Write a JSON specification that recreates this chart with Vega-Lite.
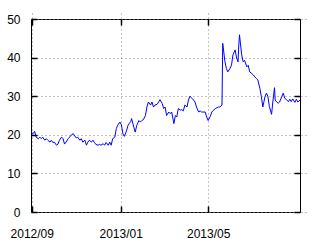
{
  "$schema": "https://vega.github.io/schema/vega-lite/v6.json",
  "width": 269,
  "height": 193,
  "autosize": {"type": "none"},
  "padding": {"left": 31, "top": 19, "right": 29, "bottom": 37},
  "background": "white",
  "config": {
    "view": {"stroke": "black", "strokeWidth": 1},
    "axis": {
      "labelFont": "Liberation Sans",
      "labelFontSize": 12,
      "labelColor": "black",
      "ticks": true,
      "tickColor": "black",
      "tickOpacity": 1,
      "tickWidth": 1.5,
      "tickSize": 6,
      "offset": -6,
      "domain": false,
      "title": null,
      "labelFlush": false,
      "gridColor": "#888888",
      "gridDash": [1, 3],
      "gridWidth": 1
    }
  },
  "data": {
    "values": [
      {"date": "2012-08-31", "price": 20.7},
      {"date": "2012-09-03", "price": 20.3},
      {"date": "2012-09-05", "price": 20.9},
      {"date": "2012-09-07", "price": 19.4},
      {"date": "2012-09-10", "price": 19.0},
      {"date": "2012-09-12", "price": 19.4},
      {"date": "2012-09-14", "price": 19.0},
      {"date": "2012-09-16", "price": 19.4},
      {"date": "2012-09-19", "price": 18.6},
      {"date": "2012-09-21", "price": 19.0},
      {"date": "2012-09-23", "price": 18.6},
      {"date": "2012-09-26", "price": 18.1},
      {"date": "2012-09-28", "price": 18.6},
      {"date": "2012-09-30", "price": 18.0},
      {"date": "2012-10-02", "price": 18.1},
      {"date": "2012-10-05", "price": 17.3},
      {"date": "2012-10-07", "price": 17.6},
      {"date": "2012-10-09", "price": 18.6},
      {"date": "2012-10-12", "price": 19.4},
      {"date": "2012-10-14", "price": 19.0},
      {"date": "2012-10-16", "price": 17.6},
      {"date": "2012-10-18", "price": 18.1},
      {"date": "2012-10-21", "price": 19.0},
      {"date": "2012-10-23", "price": 19.4},
      {"date": "2012-10-25", "price": 19.9},
      {"date": "2012-10-28", "price": 20.3},
      {"date": "2012-10-30", "price": 19.7},
      {"date": "2012-11-01", "price": 19.2},
      {"date": "2012-11-03", "price": 19.4},
      {"date": "2012-11-06", "price": 18.6},
      {"date": "2012-11-08", "price": 19.0},
      {"date": "2012-11-10", "price": 18.1},
      {"date": "2012-11-13", "price": 18.6},
      {"date": "2012-11-15", "price": 17.3},
      {"date": "2012-11-17", "price": 18.1},
      {"date": "2012-11-19", "price": 18.6},
      {"date": "2012-11-22", "price": 18.1},
      {"date": "2012-11-24", "price": 18.6},
      {"date": "2012-11-26", "price": 18.0},
      {"date": "2012-11-28", "price": 17.5},
      {"date": "2012-12-01", "price": 17.3},
      {"date": "2012-12-03", "price": 17.5},
      {"date": "2012-12-05", "price": 17.3},
      {"date": "2012-12-08", "price": 17.7},
      {"date": "2012-12-10", "price": 17.3},
      {"date": "2012-12-12", "price": 18.0},
      {"date": "2012-12-15", "price": 17.3},
      {"date": "2012-12-17", "price": 18.1},
      {"date": "2012-12-19", "price": 17.3},
      {"date": "2012-12-21", "price": 19.0},
      {"date": "2012-12-24", "price": 19.4},
      {"date": "2012-12-26", "price": 21.6},
      {"date": "2012-12-28", "price": 22.5},
      {"date": "2012-12-31", "price": 23.3},
      {"date": "2013-01-02", "price": 22.6},
      {"date": "2013-01-04", "price": 20.3},
      {"date": "2013-01-06", "price": 19.6},
      {"date": "2013-01-09", "price": 21.0},
      {"date": "2013-01-11", "price": 22.4},
      {"date": "2013-01-13", "price": 23.0},
      {"date": "2013-01-15", "price": 23.5},
      {"date": "2013-01-16", "price": 24.2},
      {"date": "2013-01-19", "price": 22.0},
      {"date": "2013-01-21", "price": 20.7},
      {"date": "2013-01-23", "price": 22.4},
      {"date": "2013-01-26", "price": 23.7},
      {"date": "2013-01-28", "price": 23.3},
      {"date": "2013-01-30", "price": 23.7},
      {"date": "2013-02-01", "price": 23.9},
      {"date": "2013-02-04", "price": 25.0},
      {"date": "2013-02-06", "price": 27.2},
      {"date": "2013-02-08", "price": 28.5},
      {"date": "2013-02-11", "price": 27.7},
      {"date": "2013-02-13", "price": 28.5},
      {"date": "2013-02-15", "price": 27.2},
      {"date": "2013-02-17", "price": 27.7},
      {"date": "2013-02-20", "price": 27.9},
      {"date": "2013-02-22", "price": 28.5},
      {"date": "2013-02-24", "price": 29.1},
      {"date": "2013-02-27", "price": 28.1},
      {"date": "2013-03-01", "price": 26.8},
      {"date": "2013-03-03", "price": 27.2},
      {"date": "2013-03-05", "price": 25.0},
      {"date": "2013-03-08", "price": 25.9},
      {"date": "2013-03-10", "price": 25.5},
      {"date": "2013-03-12", "price": 25.9},
      {"date": "2013-03-15", "price": 22.9},
      {"date": "2013-03-17", "price": 25.0},
      {"date": "2013-03-19", "price": 24.6},
      {"date": "2013-03-21", "price": 26.8},
      {"date": "2013-03-24", "price": 26.4},
      {"date": "2013-03-26", "price": 26.5},
      {"date": "2013-03-28", "price": 26.2},
      {"date": "2013-03-30", "price": 27.7},
      {"date": "2013-04-02", "price": 27.2},
      {"date": "2013-04-04", "price": 29.0},
      {"date": "2013-04-06", "price": 30.0},
      {"date": "2013-04-09", "price": 29.4},
      {"date": "2013-04-11", "price": 29.0},
      {"date": "2013-04-13", "price": 28.5},
      {"date": "2013-04-15", "price": 27.2},
      {"date": "2013-04-18", "price": 25.9},
      {"date": "2013-04-20", "price": 26.2},
      {"date": "2013-04-22", "price": 25.9},
      {"date": "2013-04-25", "price": 25.9},
      {"date": "2013-04-27", "price": 25.9},
      {"date": "2013-04-29", "price": 24.6},
      {"date": "2013-05-01", "price": 23.7},
      {"date": "2013-05-04", "price": 24.8},
      {"date": "2013-05-06", "price": 25.9},
      {"date": "2013-05-08", "price": 26.3},
      {"date": "2013-05-11", "price": 26.8},
      {"date": "2013-05-13", "price": 27.0},
      {"date": "2013-05-15", "price": 27.2},
      {"date": "2013-05-17", "price": 27.2},
      {"date": "2013-05-20", "price": 27.7},
      {"date": "2013-05-21", "price": 43.7},
      {"date": "2013-05-24", "price": 39.0},
      {"date": "2013-05-26", "price": 37.2},
      {"date": "2013-05-28", "price": 36.3},
      {"date": "2013-05-31", "price": 37.2},
      {"date": "2013-06-02", "price": 38.0},
      {"date": "2013-06-04", "price": 40.7},
      {"date": "2013-06-07", "price": 42.0},
      {"date": "2013-06-09", "price": 39.9},
      {"date": "2013-06-11", "price": 38.9},
      {"date": "2013-06-12", "price": 43.0},
      {"date": "2013-06-13", "price": 45.9},
      {"date": "2013-06-16", "price": 40.7},
      {"date": "2013-06-18", "price": 38.9},
      {"date": "2013-06-20", "price": 39.3},
      {"date": "2013-06-23", "price": 37.6},
      {"date": "2013-06-25", "price": 38.0},
      {"date": "2013-06-27", "price": 36.3},
      {"date": "2013-06-29", "price": 36.0},
      {"date": "2013-07-02", "price": 35.5},
      {"date": "2013-07-04", "price": 35.0},
      {"date": "2013-07-06", "price": 34.6},
      {"date": "2013-07-08", "price": 34.3},
      {"date": "2013-07-11", "price": 32.0},
      {"date": "2013-07-13", "price": 29.9},
      {"date": "2013-07-15", "price": 27.2},
      {"date": "2013-07-18", "price": 29.9},
      {"date": "2013-07-20", "price": 30.8},
      {"date": "2013-07-22", "price": 29.9},
      {"date": "2013-07-24", "price": 27.3},
      {"date": "2013-07-27", "price": 25.3},
      {"date": "2013-07-29", "price": 29.0},
      {"date": "2013-07-31", "price": 32.2},
      {"date": "2013-08-01", "price": 29.0},
      {"date": "2013-08-03", "price": 28.5},
      {"date": "2013-08-05", "price": 28.2},
      {"date": "2013-08-07", "price": 28.5},
      {"date": "2013-08-10", "price": 29.9},
      {"date": "2013-08-12", "price": 30.8},
      {"date": "2013-08-14", "price": 29.5},
      {"date": "2013-08-16", "price": 29.2},
      {"date": "2013-08-19", "price": 28.6},
      {"date": "2013-08-21", "price": 29.2},
      {"date": "2013-08-23", "price": 28.6},
      {"date": "2013-08-25", "price": 29.3},
      {"date": "2013-08-28", "price": 28.4},
      {"date": "2013-08-30", "price": 29.2},
      {"date": "2013-09-01", "price": 28.5},
      {"date": "2013-09-04", "price": 29.0}
    ]
  },
  "layer": [
    {
      "mark": {"type": "line", "color": "#0000ff", "strokeWidth": 1, "clip": true},
      "encoding": {
        "x": {
          "field": "date",
          "type": "temporal",
          "scale": {
            "type": "utc",
            "domain": [
              {"year": 2012, "month": 8, "date": 31, "utc": true},
              {"year": 2013, "month": 9, "date": 4, "utc": true}
            ]
          },
          "axis": {
            "orient": "bottom",
            "labelExpr": "utcFormat(datum.value, '%Y/%m')",
            "values": [
              {"year": 2012, "month": 9, "date": 1, "utc": true},
              {"year": 2013, "month": 1, "date": 1, "utc": true},
              {"year": 2013, "month": 5, "date": 1, "utc": true}
            ],
            "grid": true,
            "labelPadding": 16
          }
        },
        "y": {
          "field": "price",
          "type": "quantitative",
          "scale": {"domain": [0, 50], "nice": false, "zero": false},
          "axis": {
            "orient": "left",
            "values": [0, 10, 20, 30, 40, 50],
            "grid": true,
            "labelPadding": 11
          }
        }
      }
    },
    {
      "mark": {"type": "line", "strokeOpacity": 0},
      "encoding": {
        "x": {
          "field": "date",
          "type": "temporal",
          "axis": {
            "orient": "top",
            "labels": false,
            "grid": false,
            "values": [
              {"year": 2012, "month": 9, "date": 1, "utc": true},
              {"year": 2013, "month": 1, "date": 1, "utc": true},
              {"year": 2013, "month": 5, "date": 1, "utc": true}
            ]
          }
        },
        "y": {
          "field": "price",
          "type": "quantitative",
          "axis": {
            "orient": "right",
            "labels": false,
            "grid": false,
            "values": [0, 10, 20, 30, 40, 50]
          }
        }
      }
    }
  ],
  "resolve": {"axis": {"x": "independent", "y": "independent"}}
}
